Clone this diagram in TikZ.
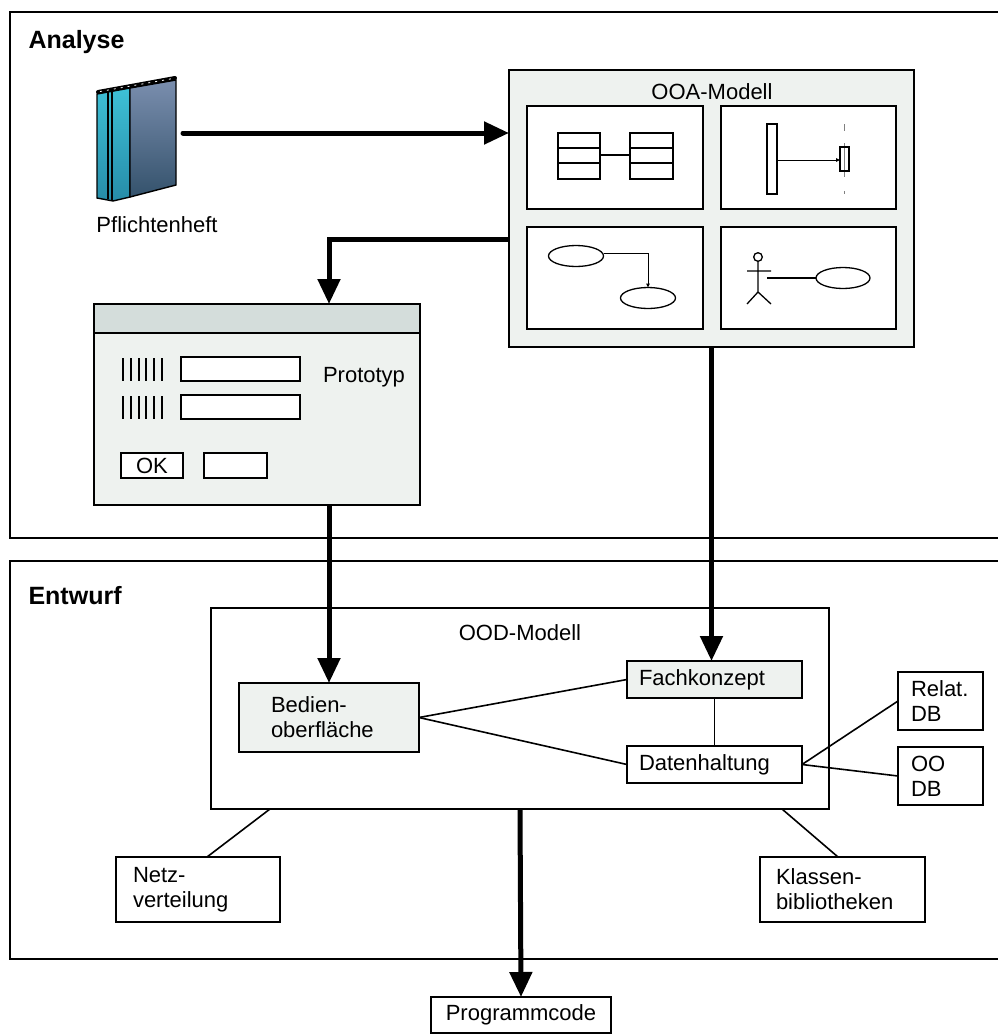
\documentclass[tikz,border=0pt]{standalone}
\usepackage{fontspec}
\setmainfont{Liberation Sans}
\usetikzlibrary{arrows.meta,calc}
\definecolor{panelfill}{RGB}{238,242,239}
\definecolor{barfill}{RGB}{212,221,219}
\definecolor{spinetop}{RGB}{62,192,214}
\definecolor{spinebot}{RGB}{38,140,168}
\definecolor{covertop}{RGB}{122,142,174}
\definecolor{coverbot}{RGB}{52,82,108}
\begin{document}
\begin{tikzpicture}[x=1pt,y=-1pt,
  font=\fontsize{22}{25}\selectfont,
  thinline/.style={line width=1.6pt},
  bigarrow/.style={line width=5pt,-{Triangle[length=25pt,width=22pt]}},
  smallarrow/.style={line width=1pt,-{Triangle[length=4pt,width=3.5pt]}},
  box/.style={draw,line width=1.6pt,inner sep=0pt,outer sep=0pt,anchor=north west},
  heading/.style={font=\bfseries\fontsize{25}{28}\selectfont,anchor=base west},
  ltext/.style={align=left,inner ysep=0pt}]
\useasboundingbox (0,0) rectangle (998,1034);

% ---- phase frames (open to the right) ----
\draw[thinline] (998,12) -- (10,12) -- (10,538) -- (998,538);
\draw[thinline] (998,561) -- (10,561) -- (10,959) -- (998,959);
\node[heading] (analyse) at (25,48) {Analyse};
\node[heading] (entwurf) at (25,604) {Entwurf};

% ---- requirements book ----
\shade[top color=spinetop,bottom color=spinebot,draw=black,line width=1.4pt]
  (97,94) -- (130,88) -- (130,197) -- (113,201) -- (97,198) -- cycle;
\draw[line width=1.2pt] (108,92) -- (108,199) (112,91) -- (112,200);
\shade[top color=covertop,bottom color=coverbot,draw=black,line width=1.4pt]
  (130,88) -- (176,80) -- (176,185) -- (130,197) -- cycle;
\draw[line width=4pt,line cap=round] (98,92) -- (175,78);
\draw[white,line width=0.8pt,dash pattern=on 2pt off 5pt] (100,91.5) -- (173,78.5);
\node[inner sep=0pt,minimum width=80pt,minimum height=122pt] (book) at (136.5,141) {};
\node[anchor=base] (pflicht) at (157,232) {Pflichtenheft};
\coordinate (bookout) at (183,133);

% ---- OOA model ----
\node[box,fill=panelfill,minimum width=405pt,minimum height=277pt] (ooa) at (509,70) {};
\node[anchor=base] (ooatitle) at (712,99) {OOA-Modell};
\node[box,fill=white,minimum width=176pt,minimum height=103pt] (p1) at (527,106) {};
\node[box,fill=white,minimum width=175pt,minimum height=103pt] (p2) at (721,106) {};
\node[box,fill=white,minimum width=176pt,minimum height=102pt] (p3) at (527,227) {};
\node[box,fill=white,minimum width=175pt,minimum height=102pt] (p4) at (721,227) {};

% class diagram
\begin{scope}[line width=1.3pt]
  \draw (558,133) rectangle (600,179) (558,148) -- (600,148) (558,163) -- (600,163);
  \draw (630,133) rectangle (673,179) (630,148) -- (673,148) (630,163) -- (673,163);
  \draw (600,155) -- (630,155);
\end{scope}
% sequence diagram
\draw[gray,line width=0.8pt] (844,124) -- (844,131) (844,143) -- (844,177) (844,191) -- (844,194);
\draw[line width=1.3pt,fill=white] (767,124) rectangle (777,194);
\draw[line width=1.3pt] (840,147) rectangle (849,171);
\draw[smallarrow] (777,160) -- (840,160);
% activity diagram
\draw[line width=1.3pt] (576,256) ellipse [x radius=27.5pt,y radius=10.5pt];
\draw[line width=1.3pt] (648,298) ellipse [x radius=27.5pt,y radius=10.5pt];
\draw[smallarrow] (603.5,253.5) -| (648,287.5);
% use case diagram
\begin{scope}[line width=1.3pt]
  \draw (758,257) circle [radius=4.3pt];
  \draw (758,261.3) -- (758,292) (747,271) -- (771,271) (747,304) -- (758,292) -- (771,304);
  \draw (767,278) -- (816,278);
  \draw (843,278) ellipse [x radius=27pt,y radius=10.5pt];
\end{scope}

% ---- prototype window ----
\node[box,fill=panelfill,minimum width=326pt,minimum height=201pt] (proto) at (94,304) {};
\filldraw[fill=barfill,line width=1.6pt] (proto.north west) rectangle ([yshift=-29pt]proto.north east);
\foreach \i in {0,...,5} {
  \draw[line width=2pt] ({123+7.8*\i},358) -- ++(0,23);
  \draw[line width=2pt] ({123+7.8*\i},396) -- ++(0,23);
}
\draw[line width=1.6pt,fill=white] (181,357) rectangle (300,381);
\draw[line width=1.6pt,fill=white] (181,395) rectangle (300,419);
\node[box,fill=white,minimum width=62pt,minimum height=25pt] (okbtn) at (121,453) {OK};
\draw[line width=1.6pt,fill=white] (204,453) rectangle (267,478);
\node[anchor=base] (prototyp) at (364,382) {Prototyp};

% ---- OOD model ----
\node[box,fill=white,minimum width=618pt,minimum height=201pt] (ood) at (211,608) {};
\node[anchor=base] (oodtitle) at (520,640) {OOD-Modell};
\node[box,fill=panelfill,ltext,inner xsep=32pt,text width=116pt,minimum height=69pt] (bedien) at (239,683) {Bedien-\\oberfläche};
\node[box,fill=panelfill,ltext,inner xsep=12pt,text width=151pt,minimum height=37pt] (fach) at (627,661) {Fachkonzept};
\node[box,fill=white,ltext,inner xsep=12pt,text width=151pt,minimum height=37pt] (daten) at (627,746) {Datenhaltung};
\node[box,fill=white,ltext,inner xsep=13pt,text width=59pt,minimum height=58pt] (relat) at (898,672) {Relat.\\DB};
\node[box,fill=white,ltext,inner xsep=13pt,text width=59pt,minimum height=58pt] (oodb) at (898,747) {OO\\DB};
\node[box,fill=white,ltext,inner xsep=17pt,text width=130pt,minimum height=65pt] (netz) at (116,857) {Netz-\\verteilung};
\node[box,fill=white,ltext,inner xsep=16pt,text width=133pt,minimum height=65pt] (klassen) at (760,857) {Klassen-\\bibliotheken};
\node[box,fill=white,minimum width=180pt,minimum height=36pt] (prog) at (431,997) {Programmcode};

% ---- thin connectors ----
\begin{scope}[thinline]
  \draw (bedien.east) -- (fach.west);
  \draw (bedien.east) -- (daten.west);
  \draw (fach.south) -- (daten.north);
  \draw (daten.east) -- (relat.west);
  \draw (daten.east) -- (oodb.west);
  \draw ([xshift=59pt]ood.south west) -- ([xshift=91pt]netz.north west);
  \draw ([xshift=-47pt]ood.south east) -- ([xshift=78pt]klassen.north west);
\end{scope}

% ---- thick flow arrows ----
\draw[bigarrow,line cap=round] (bookout) -- (bookout -| ooa.west);
\draw[bigarrow] (ooa.west |- 0,239) -| (bedien.north |- proto.north);
\draw[bigarrow] (bedien.north |- proto.south) -- (bedien.north);
\draw[bigarrow] (ooa.south) -- (ooa.south |- fach.north);
\draw[bigarrow] (ood.south) -- (prog.north);
\end{tikzpicture}
\end{document}
